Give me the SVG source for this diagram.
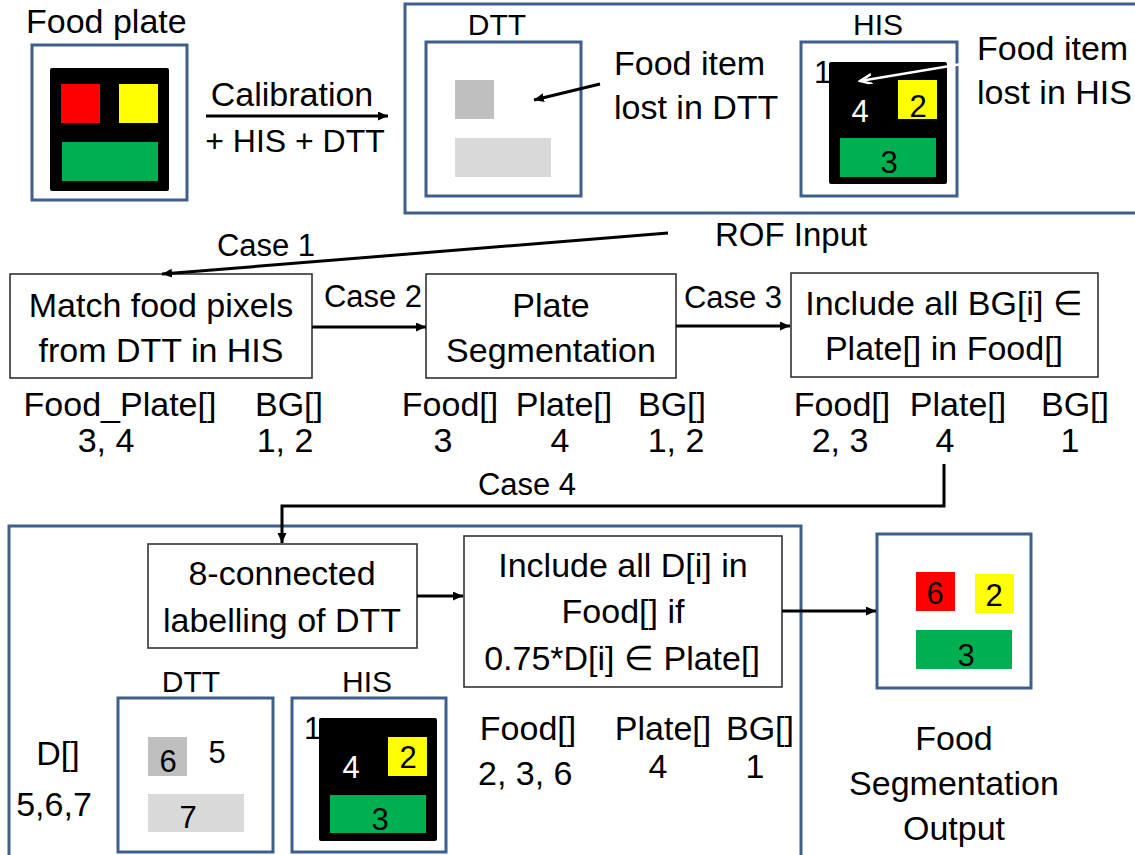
<svg xmlns="http://www.w3.org/2000/svg" width="1135" height="855" viewBox="0 0 1135 855">
  <defs>
    <style>
      text { font-family: "Liberation Sans", Arial, sans-serif; font-size: 34px; fill: #000; }
      .mid { text-anchor: middle; }
      .case { font-size: 31px; }
      .lbl { font-size: 30px; }
      .dig { font-size: 31px; }
      .wht { fill: #fff; }
      .frame { fill: #fff; stroke: #3e5f8c; stroke-width: 3; }
      .step { fill: #fff; stroke: #333; stroke-width: 1.6; }
      .conn { fill: none; stroke: #000; stroke-width: 3; }
      .red { fill: #ff0000; }
      .yel { fill: #ffff00; }
      .grn { fill: #00b050; }
      .blk { fill: #000; }
      .dgry { fill: #bfbfbf; }
      .lgry { fill: #d9d9d9; }
    </style>
    <marker id="arrow" markerUnits="userSpaceOnUse" markerWidth="12" markerHeight="10" refX="10" refY="4.5" orient="auto">
      <path d="M0,0 L10,4.5 L0,9 z" fill="#000"/>
    </marker>
    <marker id="arrowWhite" markerUnits="userSpaceOnUse" markerWidth="14" markerHeight="12" refX="12" refY="5" orient="auto">
      <path d="M0,0 L12,5 L0,10" fill="none" stroke="#fff" stroke-width="2.5"/>
    </marker>
  </defs>

  <rect width="1135" height="855" fill="#fff"/>

  <!-- input plate -->
  <g id="food-plate">
    <text x="26" y="33">Food plate</text>
    <rect class="frame" x="32" y="45" width="155" height="155"/>
    <rect class="blk" x="50" y="68" width="119" height="123" rx="2"/>
    <rect class="red" x="61" y="84" width="39" height="39"/>
    <rect class="yel" x="119" y="84" width="39" height="39"/>
    <rect class="grn" x="62" y="142" width="96" height="39"/>
  </g>

  <g id="calibration-label">
    <text class="mid" x="292" y="106">Calibration</text>
    <text class="mid" x="295" y="152" style="font-size:32px">+ HIS + DTT</text>
  </g>

  <!-- sensor views -->
  <g id="sensor-views">
    <rect class="frame" x="405" y="4" width="740" height="209"/>
    <text class="mid lbl" x="497" y="35">DTT</text>
    <rect class="frame" x="426" y="42" width="155" height="154"/>
    <rect class="dgry" x="455" y="80" width="39" height="39"/>
    <rect class="lgry" x="455" y="138" width="96" height="39"/>
    <text x="614" y="75">Food item</text>
    <text x="614" y="119">lost in DTT</text>

    <text class="mid lbl" x="878" y="35">HIS</text>
    <rect class="frame" x="801" y="42" width="156" height="154"/>
    <rect class="blk" x="829" y="62" width="118" height="122" rx="2"/>
    <rect class="yel" x="898" y="80" width="39" height="39"/>
    <rect class="grn" x="840" y="138" width="96" height="39"/>
    <text class="dig" x="814" y="83">1</text>
    <text class="dig wht mid" x="860" y="122">4</text>
    <text class="dig mid" x="918" y="117">2</text>
    <text class="dig mid" x="889" y="173">3</text>
    <text x="977" y="60">Food item</text>
    <text x="977" y="104">lost in HIS</text>
  </g>

  <text id="rof-input" x="715" y="246" style="font-size:33px">ROF Input</text>

  <!-- case 1 -->
  <g id="match-pixels">
    <rect class="step" x="10" y="274" width="302" height="104"/>
    <text class="mid" x="161" y="317">Match food pixels</text>
    <text class="mid" x="161" y="362">from DTT in HIS</text>
    <text class="mid" x="120" y="416">Food_Plate[]</text>
    <text class="mid" x="289" y="416">BG[]</text>
    <text class="mid" x="106" y="452">3, 4</text>
    <text class="mid" x="285" y="452">1, 2</text>
  </g>

  <!-- case 2 -->
  <g id="plate-segmentation">
    <rect class="step" x="426" y="274" width="250" height="104"/>
    <text class="mid" x="551" y="317">Plate</text>
    <text class="mid" x="551" y="362">Segmentation</text>
    <text class="mid" x="450" y="416">Food[]</text>
    <text class="mid" x="564" y="416">Plate[]</text>
    <text class="mid" x="672" y="416">BG[]</text>
    <text class="mid" x="443" y="452">3</text>
    <text class="mid" x="560" y="452">4</text>
    <text class="mid" x="676" y="452">1, 2</text>
  </g>

  <!-- case 3 -->
  <g id="include-bg">
    <rect class="step" x="791" y="273" width="307" height="104"/>
    <text class="mid" x="944" y="315">Include all BG[i] ∈</text>
    <text class="mid" x="944" y="360">Plate[] in Food[]</text>
    <text class="mid" x="842" y="416">Food[]</text>
    <text class="mid" x="958" y="416">Plate[]</text>
    <text class="mid" x="1075" y="416">BG[]</text>
    <text class="mid" x="840" y="452">2, 3</text>
    <text class="mid" x="945" y="452">4</text>
    <text class="mid" x="1070" y="452">1</text>
  </g>

  <!-- case 4 -->
  <g id="case4-frame">
    <rect class="frame" x="9" y="526" width="792" height="340"/>
  </g>

  <g id="labelling">
    <rect class="step" x="148" y="544" width="269" height="104"/>
    <text class="mid" x="282" y="585">8-connected</text>
    <text class="mid" x="282" y="632">labelling of DTT</text>
  </g>

  <g id="include-d">
    <rect class="step" x="464" y="536" width="318" height="151"/>
    <text class="mid" x="623" y="577">Include all D[i] in</text>
    <text class="mid" x="623" y="623">Food[] if</text>
    <text class="mid" x="622" y="670">0.75*D[i] ∈ Plate[]</text>
  </g>

  <g id="d-list">
    <text class="mid" x="58" y="765">D[]</text>
    <text class="mid" x="54" y="816">5,6,7</text>
  </g>

  <g id="dtt-labelled">
    <text class="mid lbl" x="191" y="692">DTT</text>
    <rect class="frame" x="118" y="698" width="155" height="154"/>
    <rect class="dgry" x="148" y="737" width="39" height="39"/>
    <rect class="lgry" x="148" y="794" width="96" height="38"/>
    <text class="dig mid" x="168" y="772">6</text>
    <text class="dig mid" x="217" y="763">5</text>
    <text class="dig mid" x="188" y="828">7</text>
  </g>

  <g id="his-labelled">
    <text class="mid lbl" x="367" y="692">HIS</text>
    <rect class="frame" x="292" y="698" width="154" height="154"/>
    <rect class="blk" x="319" y="718" width="118" height="123" rx="2"/>
    <rect class="yel" x="388" y="737" width="39" height="39"/>
    <rect class="grn" x="330" y="795" width="96" height="38"/>
    <text class="dig" x="304" y="739">1</text>
    <text class="dig wht mid" x="351" y="778">4</text>
    <text class="dig mid" x="408" y="768">2</text>
    <text class="dig mid" x="380" y="830">3</text>
  </g>

  <g id="case4-result">
    <text class="mid" x="528" y="740">Food[]</text>
    <text class="mid" x="663" y="740">Plate[]</text>
    <text class="mid" x="760" y="740">BG[]</text>
    <text x="478" y="785">2, 3, 6</text>
    <text class="mid" x="658" y="778">4</text>
    <text class="mid" x="755" y="778">1</text>
  </g>

  <!-- final result -->
  <g id="segmentation-output">
    <rect class="frame" x="877" y="534" width="154" height="154"/>
    <rect class="red" x="916" y="572" width="39" height="39"/>
    <rect class="yel" x="975" y="574" width="39" height="39"/>
    <rect class="grn" x="916" y="630" width="96" height="39"/>
    <text class="dig mid" x="935" y="604">6</text>
    <text class="dig mid" x="994" y="606">2</text>
    <text class="dig mid" x="966" y="666">3</text>
    <text class="mid" x="954" y="750">Food</text>
    <text class="mid" x="954" y="795">Segmentation</text>
    <text class="mid" x="954" y="840">Output</text>
  </g>

  <!-- connectors -->
  <g id="connectors">
    <line class="conn" x1="206" y1="116" x2="388" y2="116" marker-end="url(#arrow)"/>
    <line class="conn" x1="600" y1="84" x2="534" y2="100" marker-end="url(#arrow)"/>
    <line x1="968" y1="63" x2="860" y2="81" stroke="#fff" stroke-width="2.5" marker-end="url(#arrowWhite)"/>
    <line class="conn" x1="668" y1="233" x2="162" y2="274" marker-end="url(#arrow)"/>
    <line class="conn" x1="312" y1="327" x2="426" y2="327" marker-end="url(#arrow)"/>
    <line class="conn" x1="676" y1="326" x2="790" y2="326" marker-end="url(#arrow)"/>
    <polyline class="conn" points="944,464 944,506 282,506 282,543" marker-end="url(#arrow)"/>
    <line class="conn" x1="417" y1="596" x2="463" y2="596" marker-end="url(#arrow)"/>
    <line class="conn" x1="782" y1="611" x2="876" y2="611" marker-end="url(#arrow)"/>
  </g>

  <g id="case-labels">
    <text class="mid case" x="266" y="256">Case 1</text>
    <text class="mid case" x="373" y="307">Case 2</text>
    <text class="mid case" x="733" y="308">Case 3</text>
    <text class="mid case" x="527" y="495">Case 4</text>
  </g>
</svg>
